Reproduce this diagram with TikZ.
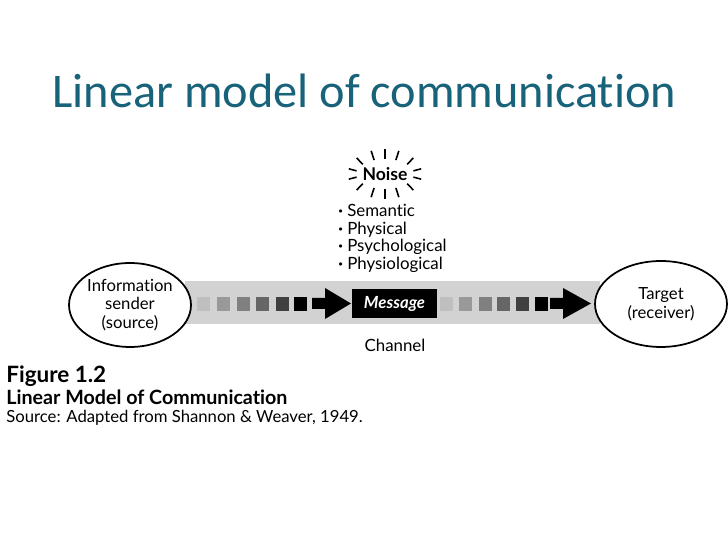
\documentclass[tikz,border=0pt]{standalone}
\usepackage{fontspec}
\setmainfont{Lato}[Ligatures={NoCommon}]
\newfontfamily\slidefont{Carlito}[Ligatures={NoCommon}]
\usetikzlibrary{positioning, shapes.geometric, calc}
\definecolor{slideteal}{RGB}{24,98,122}
\definecolor{bandgray}{RGB}{210,210,210}

\begin{document}
\begin{tikzpicture}[
    x=0.02cm, y=-0.02cm,
    actor/.style={ellipse, draw, line width=1pt, fill=white, inner sep=0pt, align=center, font=\fontsize{9.5}{10.6}\selectfont},
    msg/.style={fill=black, text=white, minimum width=1.7cm, minimum height=0.58cm, font=\fontsize{9.5}{10}\selectfont\bfseries\itshape},
    label/.style={font=\fontsize{9.6}{10}\selectfont},
    ray/.style={line width=0.9pt}
]
\useasboundingbox[fill=white] (0,0) rectangle (728,546);

% Titulo
\node[anchor=base west, inner sep=0pt, text=slideteal, font=\slidefont\fontsize{27.5}{32}\selectfont] (title) at (52,108) {Linear model of communication};

% Canal
\fill[bandgray] (185,281) rectangle (600,324);
\foreach \x/\tone in {203.5/25, 223/40, 243/50, 262.5/60, 282/75, 300.5/100}
    \fill[black!\tone] (\x-6.5,297) rectangle ++(13,14);
\fill (312,298) -- (325,298) -- (325,288) -- (351,303.5) -- (325,319) -- (325,309) -- (312,309) -- cycle;
\foreach \x/\tone in {446.5/25, 465/40, 485/50, 503.5/60, 522.5/75, 541/100}
    \fill[black!\tone] (\x-6.5,297) rectangle ++(13,14);
\fill (550,298) -- (563,298) -- (563,288) -- (591,303.5) -- (563,319) -- (563,309) -- (550,309) -- cycle;

% Nodos
\node[actor, minimum width=2.44cm, minimum height=1.68cm] (sender) at (130,305) {Information\\sender\\(source)};
\node[actor, minimum width=2.64cm, minimum height=1.72cm] (target) at (661,304) {Target\\(receiver)};
\node[msg] (message) at (394.5,303.5) {Message};
\node[label] (channel) at (395,345) {Channel};

% Ruido
\node[font=\fontsize{10}{11}\selectfont\bfseries] (noise) at (385,174) {Noise};
\foreach \a in {40,68,90,112,140,168,192,220,248,270,292,320,348,12}
    \draw[ray] ($(noise.center)+(\a:29 and 15)$) -- ($(noise.center)+(\a:37 and 25)$);
\node[label, anchor=north west, align=left, inner sep=0pt] (kinds) at (338,204) {\textbf{·} Semantic\\\textbf{·} Physical\\\textbf{·} Psychological\\\textbf{·} Physiological};

% Pie de figura
\node[anchor=base west, inner sep=0pt, font=\fontsize{12.8}{14}\selectfont\bfseries] (figno) at (6,383) {Figure 1.2};
\node[anchor=base west, inner sep=0pt, font=\fontsize{11.2}{13}\selectfont\bfseries] (figname) at (6,405) {Linear Model of Communication};
\node[anchor=base west, inner sep=0pt, font=\fontsize{9.5}{11}\selectfont] (figsource) at (6,423) {Source: Adapted from Shannon \& Weaver, 1949.};

\end{tikzpicture}
\end{document}
